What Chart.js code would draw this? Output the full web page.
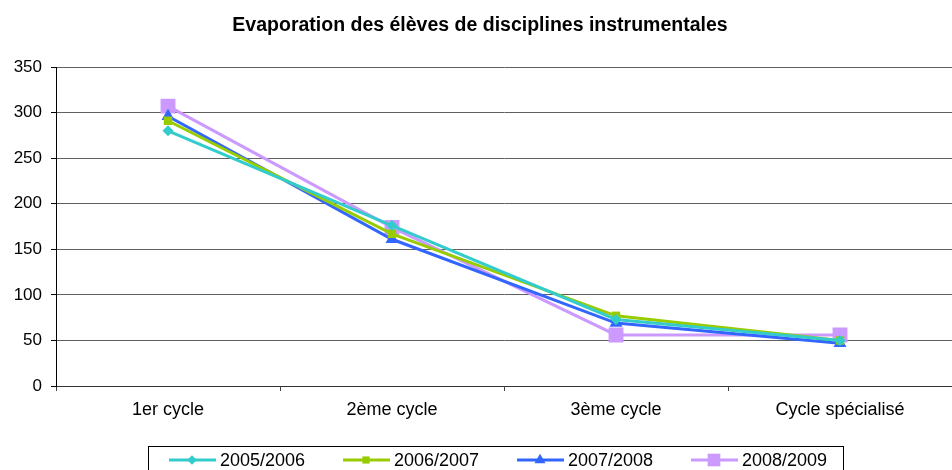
<!DOCTYPE html>
<html lang="fr">
<head>
  <meta charset="UTF-8">
  <title>Evaporation des élèves</title>
  <script src="https://cdn.jsdelivr.net/npm/chart.js"></script>
  <style>
    html, body { margin: 0; padding: 0; background: #fff; }
    .chart-box { position: relative; width: 952px; height: 470px; }
  </style>
</head>
<body>
  <div class="chart-box">
    <canvas id="evap"></canvas>
  </div>

  <script>
    // data
    const cycles = ['1er cycle', '2ème cycle', '3ème cycle', 'Cycle spécialisé'];
    const years = ['2005/2006', '2006/2007', '2007/2008', '2008/2009'];
    const y2005 = [280, 176, 73, 50];
    const y2006 = [291, 167, 77, 50];
    const y2007 = [296, 161, 69, 47];
    const y2008 = [307, 174, 56, 56];
    const yTicks = [0, 50, 100, 150, 200, 250, 300, 350];

    const FONT = 'Liberation Sans, Arial, sans-serif';

    function serie(label, data, color, style, radius) {
      return {
        label: label,
        data: data,
        borderColor: color,
        backgroundColor: color,
        borderWidth: 3,
        pointStyle: style,
        pointRadius: radius,
        pointHoverRadius: radius,
        pointBorderWidth: 0,
        tension: 0
      };
    }

    // title + boxed legend drawn by hand, like the Excel original
    const decor = {
      id: 'decor',
      afterDraw(chart) {
        const ctx = chart.ctx;
        ctx.save();
        ctx.fillStyle = '#000';
        ctx.font = 'bold 19.5px ' + FONT;
        ctx.textAlign = 'center';
        ctx.textBaseline = 'alphabetic';
        ctx.fillText('Evaporation des élèves de disciplines instrumentales', 480, 31);

        // legend frame
        ctx.strokeStyle = '#000';
        ctx.lineWidth = 1;
        ctx.strokeRect(148.5, 446.5, 695, 30);

        ctx.font = '18px ' + FONT;
        ctx.textAlign = 'left';
        ctx.textBaseline = 'middle';
        chart.data.datasets.forEach((ds, i) => {
          const x0 = 169 + i * 174;
          const y = 460;
          ctx.strokeStyle = ds.borderColor;
          ctx.lineWidth = 3;
          ctx.beginPath();
          ctx.moveTo(x0, y);
          ctx.lineTo(x0 + 47, y);
          ctx.stroke();
          ctx.fillStyle = ds.backgroundColor;
          Chart.helpers.drawPoint(ctx, {
            pointStyle: ds.pointStyle,
            radius: ds.pointRadius * 0.85,
            rotation: 0,
            borderWidth: 0
          }, x0 + 23, y);
          ctx.fillStyle = '#000';
          ctx.fillText(ds.label, x0 + 51, y + 1);
        });
        ctx.restore();
      }
    };

    const ctx = document.getElementById('evap').getContext('2d');
    new Chart(ctx, {
      type: 'line',
      data: {
        labels: cycles,
        datasets: [
          serie(years[0], y2005, '#33CCCC', 'rectRot', 5.5),
          serie(years[1], y2006, '#99CC00', 'rect', 6),
          serie(years[2], y2007, '#3366FF', 'triangle', 7.5),
          serie(years[3], y2008, '#CC99FF', 'rect', 10.5)
        ]
      },
      options: {
        responsive: true,
        maintainAspectRatio: false,
        animation: false,
        layout: { autoPadding: false, padding: { top: 67, right: 0, bottom: 0, left: 0 } },
        plugins: {
          legend: { display: false },
          title: { display: false },
          tooltip: { enabled: false }
        },
        scales: {
          x: {
            offset: true,
            afterFit(scale) { scale.height = 84; },
            grid: {
              offset: true,
              drawOnChartArea: false,
              drawTicks: true,
              tickLength: 5,
              color: '#444'
            },
            border: { color: '#333', width: 1 },
            ticks: {
              padding: 8,
              color: '#000',
              font: { family: FONT, size: 18 }
            }
          },
          y: {
            min: 0,
            max: 350,
            afterFit(scale) { scale.width = 56; },
            afterBuildTicks(scale) {
              scale.ticks = yTicks.map(v => ({ value: v }));
            },
            grid: {
              color: '#606060',
              tickColor: '#000',
              tickLength: 5
            },
            border: { color: '#000', width: 1 },
            ticks: {
              padding: 9,
              color: '#000',
              font: { family: FONT, size: 17 }
            }
          }
        }
      },
      plugins: [decor]
    });
  </script>
</body>
</html>
